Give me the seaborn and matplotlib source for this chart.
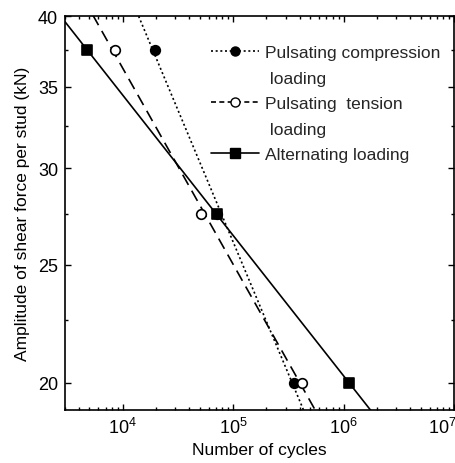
import numpy as np
import pandas as pd
import seaborn as sns
import matplotlib
matplotlib.use("Agg")
import matplotlib.pyplot as plt
from matplotlib.lines import Line2D
from matplotlib.transforms import ScaledTranslation
from matplotlib.ticker import LogLocator, NullFormatter, FixedLocator, FixedFormatter

# ---- data ----
cycles_comp = [19700, 72000, 355000]
amp_comp = [37.5, 27.5, 20.0]
cycles_tens = [8500, 51000, 417000]
amp_tens = [37.5, 27.5, 20.0]
cycles_alt = [4770, 71600, 1110000]
amp_alt = [37.5, 27.5, 20.0]

labels = ["Pulsating compression", " loading", "Pulsating  tension", " loading",
          "Alternating loading"]
yticks = [20, 25, 30, 35, 40]
yticks_minor = [22.5, 27.5, 32.5, 37.5]
xticks = [1e4, 1e5, 1e6, 1e7]
xticklabels = [r"$10^{4}$", r"$10^{5}$", r"$10^{6}$", r"$10^{7}$"]

sns.set_style("ticks")
plt.rcParams['font.family'] = ['Liberation Sans', 'DejaVu Sans']
plt.rcParams['mathtext.fontset'] = 'custom'
plt.rcParams['mathtext.rm'] = 'Liberation Sans'
plt.rcParams['mathtext.it'] = 'Liberation Sans'
plt.rcParams['mathtext.bf'] = 'Liberation Sans'

fig = plt.figure(figsize=(4.56, 4.64), dpi=100)
ax = fig.add_axes([65 / 456, 1 - 410.7 / 464, 389 / 456, 393.4 / 464])

xlim = (3000, 1e7)
xfit = np.logspace(np.log10(xlim[0]), np.log10(xlim[1]), 300)

def fit_line(xs, ys):
    b, a = np.polyfit(np.log(xs), np.log(ys), 1)
    return np.exp(a + b * np.log(xfit))

series = [
    (cycles_comp, amp_comp, (0, (1.2, 1.6)), 'k', 'k', 'o'),
    (cycles_tens, amp_tens, (0, (7, 4)), 'k', 'white', 'o'),
    (cycles_alt, amp_alt, '-', 'k', 'k', 's'),
]
for xs, ys, ls, ec, fc, mk in series:
    df = pd.DataFrame({"x": xfit, "y": fit_line(xs, ys)})
    sns.lineplot(data=df, x="x", y="y", ax=ax, color='k', linewidth=1.2,
                 linestyle=ls, legend=False)

# markers: compression drawn first so the square overlays it
for xs, ys, ls, ec, fc, mk in series:
    dfp = pd.DataFrame({"x": xs, "y": ys})
    sns.scatterplot(data=dfp, x="x", y="y", ax=ax, marker=mk, s=48,
                    facecolor=fc, edgecolor=ec, linewidth=1.2, zorder=5,
                    legend=False)

ax.set_xscale('log')
ax.set_yscale('log')
ax.set_xlim(*xlim)
ax.set_ylim(19, 40)

ax.xaxis.set_major_locator(FixedLocator(xticks))
ax.xaxis.set_major_formatter(FixedFormatter(xticklabels))
ax.xaxis.set_minor_locator(LogLocator(base=10, subs=np.arange(2, 10), numticks=20))
ax.xaxis.set_minor_formatter(NullFormatter())
ax.yaxis.set_major_locator(FixedLocator(yticks))
ax.yaxis.set_major_formatter(FixedFormatter([str(v) for v in yticks]))
ax.yaxis.set_minor_locator(FixedLocator(yticks_minor))
ax.yaxis.set_minor_formatter(NullFormatter())

ax.tick_params(which='both', direction='in', top=True, right=True, color='k',
               width=1.0)
ax.tick_params(which='major', length=4, labelsize=13, pad=5, labelcolor='k')
ax.tick_params(which='minor', length=2.5)
for sp in ax.spines.values():
    sp.set_color('k')
    sp.set_linewidth(1.2)

ax.set_xlabel("Number of cycles", fontsize=12.5, color='k', labelpad=4)
ax.set_ylabel("Amplitude of shear force per stud (kN)", fontsize=12.5,
              color='k', labelpad=6)

blank = Line2D([], [], linestyle='none')
handles = [
    Line2D([0], [0], color='k', linestyle=(0, (1.2, 1.6)), linewidth=1.2, marker='o',
           markerfacecolor='k', markeredgecolor='k', markersize=6.5),
    blank,
    Line2D([0], [0], color='k', linestyle=(0, (3, 2)), linewidth=1.2, marker='o',
           markerfacecolor='white', markeredgecolor='k', markersize=6.5),
    blank,
    Line2D([0], [0], color='k', linestyle='-', linewidth=1.2, marker='s',
           markerfacecolor='k', markeredgecolor='k', markersize=6.5),
]
ax.legend(handles, labels, loc='upper left', bbox_to_anchor=(0.375, 0.927),
          frameon=False, fontsize=12.5, handlelength=2.8, handletextpad=0.3,
          labelspacing=0.6, borderpad=0, borderaxespad=0)

# shift the last x tick label left so it stays inside the figure
fig.canvas.draw()
last = ax.xaxis.get_majorticklabels()[-1]
last.set_transform(last.get_transform() + ScaledTranslation(-12 / 100, 0, fig.dpi_scale_trans))

fig.savefig("out.png", dpi=100)
